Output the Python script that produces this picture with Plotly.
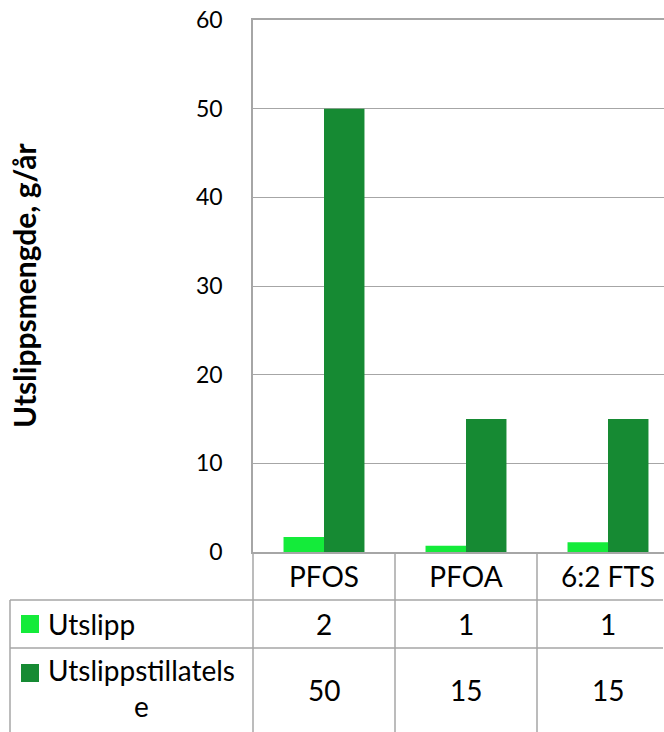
import plotly.graph_objects as go

categories = ["PFOS", "PFOA", "6:2 FTS"]
series_names = ["Utslipp", "Utslippstillatelse"]
series_labels = ["Utslipp", "Utslippstillatels<br>e"]
utslipp = [1.7, 0.7, 1.1]
tillatelse = [50, 15, 15]
colors = ["#14EB3A", "#168A33"]
y_title = "Utslippsmengde, g/år"

# page geometry (body margin removed via post_script)
OFF = 0
W, H = 664, 732
PLOT_L, PLOT_R, PLOT_T, PLOT_B = 253, 664, 20, 552
pw, ph = PLOT_R - PLOT_L, PLOT_B - PLOT_T
cat_w = 142.0
x0 = -0.5
x1 = x0 + pw / cat_w

FONT = "Lato"
GRID = "#a6a6a6"
TXT = 28


def xp(px):
    return (px - PLOT_L) / pw


def yp(py):
    return (PLOT_B - py) / ph


def xdata_to_paper(v):
    return (v - x0) / (x1 - x0)


fig = go.Figure()
xs = list(range(len(categories)))
for name, vals, col in zip(series_names, [utslipp, tillatelse], colors):
    fig.add_trace(go.Bar(x=xs, y=vals, name=name, marker=dict(color=col, line=dict(width=0)),
                         showlegend=False, hoverinfo="skip"))

shapes = []
line = dict(color=GRID, width=1.5)
for py in (600, 648):
    shapes.append(dict(type="line", xref="paper", yref="paper", x0=xp(10), x1=xp(663),
                       y0=yp(py), y1=yp(py), line=line))
shapes.append(dict(type="line", xref="paper", yref="paper", x0=xp(10), x1=xp(10),
                   y0=yp(600), y1=yp(H + 10), line=line))
for i in range(len(categories)):
    xv = xdata_to_paper(i - 0.5)
    shapes.append(dict(type="line", xref="paper", yref="paper", x0=xv, x1=xv,
                       y0=0, y1=yp(H + 10), line=line))

annotations = []
label_centers = [624, 688]
value_centers = [624, 690]
square_centers = [624, 673]
for lab, vals, col, lc, vc, sc in zip(series_labels, [utslipp, tillatelse], colors,
                                      label_centers, value_centers, square_centers):
    shapes.append(dict(type="rect", xref="paper", yref="paper", x0=xp(21), x1=xp(39),
                       y0=yp(sc - 9), y1=yp(sc + 9), fillcolor=col, line=dict(width=0)))
    annotations.append(dict(xref="paper", yref="paper", x=xp(46), y=yp(lc), text=lab,
                            showarrow=False, xanchor="left", yanchor="middle", align="center",
                            font=dict(family=FONT, size=TXT, color="black")))
    for i, v in enumerate(vals):
        annotations.append(dict(xref="paper", yref="paper", x=xdata_to_paper(i), y=yp(vc),
                                text=f"{v:.0f}", showarrow=False, xanchor="center", yanchor="middle",
                                font=dict(family=FONT, size=TXT, color="black")))

annotations.append(dict(xref="paper", yref="paper", x=xp(24), y=0.5, text="<b>" + y_title + "</b>",
                        textangle=-90, showarrow=False, xanchor="center", yanchor="middle",
                        font=dict(family=FONT, size=30, color="black")))

fig.update_layout(
    width=W, height=H,
    margin=dict(l=PLOT_L - OFF, r=W - (PLOT_R - OFF), t=PLOT_T - OFF, b=H - (PLOT_B - OFF),
                pad=0, autoexpand=False),
    paper_bgcolor="white", plot_bgcolor="white",
    barmode="group", bargap=0.43, bargroupgap=0,
    shapes=shapes, annotations=annotations,
    font=dict(family=FONT, size=23, color="black"),
    xaxis=dict(range=[x0, x1], tickvals=xs, ticktext=categories, showgrid=False,
               showline=True, linecolor=GRID, linewidth=1.5, mirror=True, ticks="", zeroline=False,
               tickfont=dict(family=FONT, size=TXT), ticklabelstandoff=0, automargin=False,
               ticklabeloverflow="allow", fixedrange=True),
    yaxis=dict(range=[0, 60], dtick=10, showgrid=True, gridcolor=GRID, gridwidth=1.2,
               showline=True, linecolor=GRID, linewidth=1.5, zeroline=False, ticks="",
               tickfont=dict(family=FONT, size=23), ticklabelstandoff=24, automargin=False,
               ticklabeloverflow="allow", fixedrange=True),
)

fig.write_html("out.html", config={"displayModeBar": False},
               post_script="document.body.style.margin='0px';")
